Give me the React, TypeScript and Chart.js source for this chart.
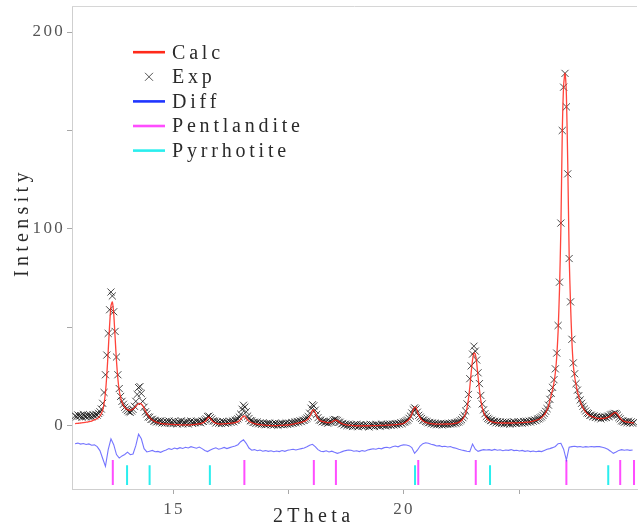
import React, { useEffect, useRef } from 'react';
import { Chart, registerables } from 'chart.js';

Chart.register(...registerables);

// Scan grid (2Theta) of the observed / calculated profile
const SCAN_START = 12.85;
const SCAN_STEP = 0.03;

const CALC = [
  1.2,1.3,1.3,1.4,1.5,1.6,1.7,1.8,1.9,2.0,
  2.2,2.3,2.5,2.8,3.1,3.4,3.8,4.3,5.0,6.2,
  8.0,11.5,17,26,38,51,61,63,57,45,
  33,24,18,14.5,12,10.5,9.5,8.8,8.3,8.0,
  8.0,8.2,8.6,9.2,10.0,10.8,11.3,11.5,11.2,10.3,
  9.0,7.6,6.3,5.2,4.3,3.6,3.0,2.6,2.2,1.9,
  1.7,1.5,1.3,1.2,1.1,1.0,1.0,0.9,0.9,0.8,
  0.8,0.8,0.7,0.7,0.7,0.7,0.6,0.6,0.6,0.6,
  0.6,0.6,0.6,0.6,0.6,0.7,0.7,0.8,0.9,1.0,
  1.1,1.2,1.4,1.7,2.1,2.9,3.9,4.5,3.9,2.9,
  2.1,1.7,1.4,1.2,1.1,1.0,1.0,1.1,1.1,1.2,
  1.2,1.3,1.3,1.4,1.5,1.6,1.7,1.9,2.2,2.7,
  3.4,4.3,5.0,4.9,4.0,3.1,2.4,2.0,1.7,1.4,
  1.2,1.0,0.9,0.8,0.7,0.6,0.5,0.4,0.4,0.3,
  0.3,0.3,0.2,0.2,0.2,0.2,0.2,0.2,0.3,0.3,
  0.3,0.4,0.4,0.5,0.5,0.6,0.7,0.8,0.9,1.1,
  1.3,1.4,1.6,1.7,1.9,2.1,2.3,2.6,3.0,3.7,
  4.7,6.2,7.8,8.1,6.8,5.2,3.9,3.1,2.6,2.3,
  2.2,2.0,1.8,1.7,1.7,1.8,2.0,2.4,2.9,3.0,
  2.7,2.2,1.7,1.3,1.0,0.8,0.6,0.5,0.4,0.3,
  0.3,0.2,0.2,0.1,0.1,0.1,0.1,0.1,0.1,0.1,
  0.1,0.1,0.1,0.1,0.1,0.2,0.2,0.2,0.2,0.2,
  0.2,0.3,0.3,0.3,0.3,0.4,0.4,0.4,0.5,0.5,
  0.6,0.6,0.7,0.7,0.8,0.9,1.0,1.1,1.3,1.6,
  2.2,2.7,3.4,4.5,6.1,8.1,9.6,9.3,7.5,5.6,
  4.2,3.2,2.6,2.2,1.9,1.6,1.5,1.3,1.2,1.1,
  1.0,1.0,0.9,0.9,0.9,0.9,0.9,0.9,1.0,1.0,
  1.0,1.0,1.1,1.1,1.2,1.3,1.4,1.6,1.9,2.2,
  2.8,3.6,4.8,6.5,9.2,13.5,19.5,27,33.5,37,
  36.5,32,25,18.5,13,9.5,7.0,5.3,4.2,3.4,
  2.8,2.4,2.1,1.9,1.8,1.7,1.6,1.6,1.6,1.5,
  1.5,1.5,1.5,1.5,1.5,1.5,1.5,1.5,1.6,1.6,
  1.6,1.6,1.7,1.7,1.7,1.8,1.8,1.9,1.9,2.0,
  2.2,2.3,2.5,2.7,2.9,3.1,3.4,3.8,4.3,5.0,
  5.8,6.8,8.2,10,12.8,15.6,18.5,22,27,35,
  48,69,100,148,173,179,168,133,87,62,
  43,31,25,21,17.5,14.8,12.5,10.8,9.3,8.0,
  7.0,6.3,5.7,5.2,4.9,4.6,4.4,4.2,4.0,3.9,
  3.8,3.8,3.8,3.9,4.0,4.2,4.4,4.7,5.2,5.8,
  6.3,6.8,6.7,6.0,5.0,4.0,3.2,2.6,2.3,2.1,
  2.0,1.9,1.8,1.7,1.6,1.6,
];

const EXP = [
  5.2,4.6,5.6,4.9,5.3,4.4,5.8,5.0,4.7,5.5,
  4.9,5.4,4.6,5.7,5.1,5.9,5.5,6.4,7.2,8.6,
  11.5,17,26,36,47,59,68,66,58,48,
  35,26,19,15,12.5,11,9.5,8.5,7.8,7.2,
  7.0,7.6,8.4,10,12.5,16,19.5,20,16.5,12.5,
  9.5,7.2,6.1,4.6,4.4,3.3,3.4,2.5,2.7,2.0,
  2.4,1.9,2.6,1.5,2.2,1.4,2.3,1.6,2.5,1.3,
  2.1,1.2,2.4,1.6,1.0,2.2,1.5,2.6,1.1,1.9,
  1.4,2.3,1.0,1.8,2.5,1.3,2.1,1.6,2.4,1.8,
  2.0,1.6,2.5,2.3,3.0,3.6,4.8,5.0,4.2,3.5,
  2.6,2.4,1.5,2.2,1.4,2.0,1.2,2.3,1.7,1.3,
  2.0,1.6,2.4,1.8,2.5,2.1,2.9,3.0,3.6,4.5,
  6.0,8.5,10.5,9.6,7.2,5.0,3.8,2.7,2.6,1.8,
  1.9,1.3,2.0,1.1,1.6,0.8,1.5,1.0,0.6,1.2,
  0.9,1.4,0.6,1.2,0.5,1.5,0.8,0.4,1.1,0.7,
  1.3,0.6,1.0,1.5,0.8,1.4,1.1,1.7,1.3,2.0,
  1.7,2.3,1.9,2.6,2.2,2.9,2.8,3.4,4.0,4.8,
  6.5,9.0,10.8,10.2,8.0,5.8,4.2,3.0,2.9,2.1,
  2.4,1.8,2.1,1.4,1.9,2.2,1.8,2.9,3.3,3.2,
  2.8,2.0,1.9,1.0,1.3,0.5,1.0,0.2,0.8,0.1,
  0.6,-0.3,0.5,0.0,0.9,-0.4,0.3,0.7,-0.2,0.4,
  -0.1,0.6,0.2,-0.5,0.8,0.1,0.4,-0.3,0.7,0.2,
  0.5,-0.1,0.9,0.3,0.6,0.0,0.8,0.4,1.0,0.3,
  1.0,0.5,1.2,0.7,1.3,0.9,1.6,1.2,1.9,2.1,
  2.6,3.0,3.9,5.0,6.6,8.3,9.2,8.6,7.0,5.4,
  4.5,3.8,3.0,2.9,2.3,2.2,1.6,1.8,1.2,1.5,
  0.9,1.4,0.6,1.2,0.7,1.3,0.5,1.1,0.8,1.2,
  0.8,1.3,1.0,1.5,1.1,1.6,1.4,1.9,2.0,2.6,
  3.2,4.2,5.3,7.6,11.2,16.0,24.0,30.5,36.5,40.5,
  38.0,33.5,27.0,21.5,15.5,11.2,8.2,6.2,4.8,3.9,
  3.4,2.7,2.9,2.1,2.4,1.6,2.2,1.4,2.0,1.3,
  1.9,1.1,2.0,1.4,1.7,0.9,1.8,1.2,2.1,1.5,
  1.3,2.2,1.5,2.0,1.4,2.3,1.7,2.4,1.8,2.5,
  2.0,2.8,2.4,3.1,2.7,3.5,3.6,4.1,4.6,5.4,
  6.3,7.4,8.8,10.6,13.5,16.6,19.6,23.5,29,37,
  51,73,103,150,172,179,162,128,85,63,
  44,32,26.5,21.5,18.2,15.4,13.2,11.5,10,8.6,
  7.6,6.6,6.3,5.4,5.5,4.7,5.1,4.3,4.8,4.0,
  4.5,3.6,4.4,4.1,4.6,4.3,5.0,4.8,5.6,5.9,
  6.0,6.4,6.2,5.5,4.3,3.6,2.6,2.5,1.9,2.2,
  1.7,2.4,1.5,2.1,1.4,1.9,
];

// Difference curve (offset below the pattern), sampled every 0.06 deg
const DIFF_START = 12.85;
const DIFF_STEP = 0.06;
const DIFF = [
  -9.0,-8.7,-9.2,-8.9,-9.4,-9.1,-9.8,-9.6,-10.5,-12.5,
  -16.5,-20.5,-12.0,-6.5,-9.5,-14.5,-16.3,-15.2,-14.5,-13.3,
  -14.6,-14.2,-10.0,-4.2,-6.5,-11.5,-13.2,-12.8,-12.4,-13.1,
  -12.9,-13.4,-12.7,-12.2,-11.5,-11.9,-11.2,-11.6,-11.0,-11.4,
  -10.8,-11.2,-10.5,-10.9,-11.3,-10.7,-11.5,-12.4,-13.0,-12.2,
  -11.6,-11.1,-11.8,-11.4,-10.9,-11.5,-11.0,-10.6,-10.2,-9.5,
  -8.0,-7.0,-8.8,-11.2,-12.3,-12.0,-12.6,-12.2,-12.8,-12.5,
  -12.9,-12.6,-13.1,-12.7,-13.0,-12.5,-12.9,-12.3,-12.1,-11.8,
  -12.2,-11.8,-11.5,-11.2,-10.6,-9.8,-9.3,-10.5,-12.0,-12.8,
  -13.0,-12.6,-13.2,-12.8,-13.4,-13.9,-13.5,-12.9,-12.5,-12.2,
  -12.3,-12.8,-12.6,-13.0,-12.5,-12.8,-12.2,-11.9,-11.6,-11.8,
  -11.3,-11.6,-11.0,-10.8,-11.2,-10.5,-10.2,-10.6,-9.9,-9.6,
  -9.7,-10.0,-11.0,-13.9,-12.3,-10.2,-9.0,-8.5,-8.8,-9.3,
  -9.6,-10.2,-10.0,-10.5,-10.3,-10.7,-10.4,-11.0,-11.3,-11.8,
  -12.2,-12.5,-12.8,-13.0,-9.2,-11.8,-12.9,-12.4,-12.0,-12.2,
  -12.0,-12.4,-11.9,-12.3,-12.1,-12.6,-12.2,-12.4,-12.0,-12.5,
  -12.3,-12.7,-12.4,-12.9,-12.6,-13.0,-12.7,-13.1,-12.8,-13.0,
  -12.4,-11.8,-11.5,-11.0,-10.4,-9.0,-8.8,-11.8,-17.3,-10.8,
  -10.5,-10.3,-10.6,-10.4,-10.8,-10.5,-10.7,-10.4,-10.6,-10.5,
  -10.5,-10.8,-11.2,-11.8,-12.8,-13.9,-13.2,-12.4,-12.0,-12.3,
  -12.1,-12.4,-12.2,
];

// Bragg reflection positions
const PENTLANDITE = [13.67, 16.53, 18.04, 18.52, 20.31, 21.56, 23.53, 24.70, 25.0];
const PYRRHOTITE = [13.98, 14.47, 15.78, 20.24, 21.87, 24.44];
const PENT_MARK = [-17.3, -30];
const PYRR_MARK = [-20.0, -30];

const Y_TICKS = [0, 50, 100, 150, 200];
const Y_LABELS = ['0', '', '100', '', '200'];
const X_TICKS = [15, 17.5, 20, 22.5];
const X_LABELS = ['15', '', '20', ''];

const X_TITLE = '2Theta';
const Y_TITLE = 'Intensity';
const LEGEND_LABELS = ['Calc', 'Exp', 'Diff', 'Pentlandite', 'Pyrrhotite'];
const LEGEND_COLORS = ['#ff2a1a', '#555555', '#1f35ff', '#ff4dff', '#2aeeee'];

const SERIF = '"Liberation Serif", "Times New Roman", serif';

function markSegments(positions: number[], ends: number[]) {
  const pts: { x: number; y: number | null }[] = [];
  positions.forEach((p) => {
    pts.push({ x: p, y: ends[0] });
    pts.push({ x: p, y: ends[1] });
    pts.push({ x: p, y: null });
  });
  return pts;
}

const decorPlugin = {
  id: 'decor',
  beforeDraw(chart: any) {
    chart.ctx.letterSpacing = '2.3px';
  },
  afterDraw(chart: any) {
    const ctx = chart.ctx as CanvasRenderingContext2D & { letterSpacing: string };
    const a = chart.chartArea;
    ctx.save();
    // top frame line
    ctx.strokeStyle = '#d6d6d6';
    ctx.lineWidth = 1;
    ctx.beginPath();
    ctx.moveTo(a.left, a.top + 0.5);
    ctx.lineTo(a.right, a.top + 0.5);
    ctx.stroke();

    // axis titles
    ctx.fillStyle = '#2a2a2a';
    ctx.font = `20px ${SERIF}`;
    ctx.letterSpacing = '4.3px';
    ctx.textAlign = 'left';
    ctx.textBaseline = 'alphabetic';
    ctx.fillText(X_TITLE, 273, 522);
    ctx.save();
    ctx.translate(28, 277);
    ctx.rotate(-Math.PI / 2);
    ctx.fillText(Y_TITLE, 0, 0);
    ctx.restore();

    // legend
    ctx.letterSpacing = '3.8px';
    LEGEND_LABELS.forEach((label, i) => {
      const base = 58.5 + 24.6 * i;
      const my = base - 6.3;
      if (i === 1) {
        ctx.strokeStyle = LEGEND_COLORS[i];
        ctx.lineWidth = 1;
        ctx.beginPath();
        ctx.moveTo(145, my - 4);
        ctx.lineTo(153, my + 4);
        ctx.moveTo(145, my + 4);
        ctx.lineTo(153, my - 4);
        ctx.stroke();
      } else {
        ctx.strokeStyle = LEGEND_COLORS[i];
        ctx.lineWidth = 2.6;
        ctx.beginPath();
        ctx.moveTo(133, my);
        ctx.lineTo(165, my);
        ctx.stroke();
      }
      ctx.fillStyle = '#2a2a2a';
      ctx.fillText(label, 172, base);
    });
    ctx.restore();
  },
};

export default function App() {
  const ref = useRef<HTMLCanvasElement | null>(null);

  useEffect(() => {
    if (!ref.current) return;
    const calcPts = CALC.map((v, i) => ({ x: +(SCAN_START + i * SCAN_STEP).toFixed(3), y: v }));
    const expPts = EXP.map((v, i) => ({ x: +(SCAN_START + i * SCAN_STEP).toFixed(3), y: v }));
    const diffPts = DIFF.map((v, i) => ({ x: +(DIFF_START + i * DIFF_STEP).toFixed(3), y: v }));

    const tickFont = { family: SERIF, size: 17 };

    const chart = new Chart(ref.current, {
      type: 'line',
      data: {
        datasets: [
          {
            label: LEGEND_LABELS[0],
            data: calcPts,
            borderColor: 'rgba(255,35,25,0.85)',
            borderWidth: 1.3,
            pointRadius: 0,
            tension: 0.2,
          },
          {
            label: LEGEND_LABELS[1],
            data: expPts,
            showLine: false,
            pointStyle: 'crossRot',
            pointRadius: 5,
            pointBorderWidth: 1,
            pointBorderColor: 'rgba(15,15,15,0.75)',
            pointBackgroundColor: 'rgba(0,0,0,0)',
          },
          {
            label: LEGEND_LABELS[2],
            data: diffPts,
            borderColor: 'rgba(70,70,255,0.75)',
            borderWidth: 1.1,
            pointRadius: 0,
          },
          {
            label: LEGEND_LABELS[3],
            data: markSegments(PENTLANDITE, PENT_MARK),
            borderColor: '#ff4dff',
            borderWidth: 2,
            pointRadius: 0,
            spanGaps: false,
          },
          {
            label: LEGEND_LABELS[4],
            data: markSegments(PYRRHOTITE, PYRR_MARK),
            borderColor: '#2aeeee',
            borderWidth: 2,
            pointRadius: 0,
            spanGaps: false,
          },
        ] as any,
      },
      options: {
        responsive: false,
        animation: false,
        layout: { autoPadding: false, padding: { top: 6, right: 1, left: 0, bottom: 0 } },
        plugins: {
          legend: { display: false },
          tooltip: { enabled: false },
        },
        scales: {
          x: {
            type: 'linear',
            min: 12.783,
            max: 25.065,
            afterBuildTicks: (s: any) => {
              s.ticks = X_TICKS.map((v) => ({ value: v }));
            },
            afterFit: (s: any) => {
              s.height = 35;
              s.paddingLeft = 0;
              s.paddingRight = 0;
            },
            ticks: {
              autoSkip: false,
              maxRotation: 0,
              padding: 5,
              color: '#555',
              font: tickFont,
              callback: (_v: any, i: number) => X_LABELS[i],
            },
            grid: { drawOnChartArea: false, drawTicks: true, tickLength: 5, color: '#a8a8a8' },
            border: { color: '#cfcfcf', width: 1 },
          },
          y: {
            type: 'linear',
            min: -32,
            max: 213.2,
            afterBuildTicks: (s: any) => {
              s.ticks = Y_TICKS.map((v) => ({ value: v }));
            },
            afterFit: (s: any) => {
              s.width = 72;
              s.paddingTop = 0;
              s.paddingBottom = 0;
            },
            ticks: {
              autoSkip: false,
              padding: 2,
              color: '#555',
              font: tickFont,
              callback: (_v: any, i: number) => Y_LABELS[i],
            },
            grid: { drawOnChartArea: false, drawTicks: true, tickLength: 5, color: '#a8a8a8' },
            border: { color: '#cfcfcf', width: 1 },
          },
        },
      } as any,
      plugins: [decorPlugin],
    });
    return () => chart.destroy();
  }, []);

  return (
    <div style={{ position: 'fixed', left: 0, top: 0, width: 638, height: 524, background: '#fff' }}>
      <canvas ref={ref} width={638} height={524} style={{ display: 'block' }} />
    </div>
  );
}
